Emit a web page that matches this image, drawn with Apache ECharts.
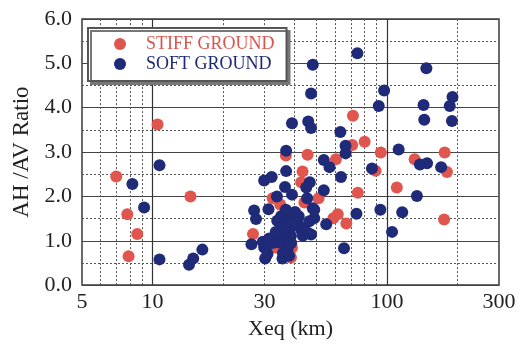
<!DOCTYPE html>
<html>
<head>
<meta charset="utf-8">
<script src="https://cdn.jsdelivr.net/npm/echarts@6/dist/echarts.min.js"></script>
<style>
  html, body { margin: 0; padding: 0; background: #fff; }
  #chart { width: 529px; height: 345px; }
</style>
</head>
<body>
<div id="chart"></div>
<script>
// values: [Xeq km, AH/AV ratio]
const stiffGround = [
  [7.0, 2.45], [7.8, 1.6], [8.6, 1.15], [7.9, 0.65], [10.5, 3.62], [14.5, 2.0],
  [26.8, 1.15], [32.5, 1.96], [35, 1.82], [37, 2.92], [43.6, 2.56], [43, 2.32],
  [45.8, 2.94], [51, 1.96], [44.4, 1.86], [38.9, 0.62], [35.3, 0.8], [39.3, 0.84],
  [33.5, 0.85], [60.5, 2.84], [59, 1.51], [61.6, 1.6], [67, 1.39], [71.5, 3.82],
  [71, 3.16], [80.2, 3.23], [75, 2.08], [89.3, 2.58], [94, 2.99], [110, 2.2],
  [131, 2.84], [176, 2.99], [180, 2.55], [175, 1.48]
];

const softGround = [
  [8.2, 2.28], [9.2, 1.75], [10.7, 2.7], [10.7, 0.58], [14.3, 0.46], [14.9, 0.6],
  [16.3, 0.8], [27.1, 1.68], [27.6, 1.49], [26.4, 0.92], [29.9, 2.36], [32.2, 2.44],
  [31.2, 1.71], [33.9, 2.0], [37.1, 3.03], [37.1, 2.57], [36.7, 2.21], [39.3, 2.04],
  [39.3, 3.65], [48.2, 4.97], [47.4, 4.32], [46.1, 3.69], [47.4, 3.54], [46.8, 2.32],
  [45.2, 2.2], [45.6, 1.96], [48.2, 1.73], [53.7, 2.82], [56.8, 2.66], [53.7, 2.14],
  [55, 1.37], [63.2, 3.45], [66.5, 3.14], [66.5, 2.97], [63.6, 2.44], [65.5, 0.83],
  [74.7, 5.23], [74, 1.61], [86.2, 2.63], [92.1, 4.04], [97.1, 4.39], [93.6, 1.7],
  [112, 3.06], [116, 1.64], [105, 1.2], [134, 2.01], [138, 2.72], [148, 2.75],
  [143, 4.06], [144, 3.73], [147, 4.89], [170, 2.66], [185, 4.04], [190, 4.24],
  [189, 3.7],
  // dense cluster around 30-50 km
  [29.9, 0.85], [30.2, 0.6], [30.9, 0.7], [29.5, 0.98], [31.4, 0.92], [33, 0.96],
  [34.1, 1.07], [34.6, 0.96], [35.3, 1.25], [35.8, 1.14], [36.4, 1.0], [36.8, 1.4],
  [37.6, 1.55], [35.3, 1.55], [38.2, 1.25], [37.9, 1.07], [38.9, 1.11], [40.2, 1.55],
  [41.6, 1.51], [42.2, 1.33], [43, 1.25], [43.7, 1.11], [44.3, 1.25], [45.8, 1.18],
  [47.4, 1.14], [48.9, 1.51], [48.9, 1.7], [46.6, 1.44], [35.8, 0.6], [37.6, 0.81],
  [38.2, 0.66], [31.4, 1.05], [33.5, 1.2], [36.5, 1.3], [39.5, 1.4], [37, 1.7],
  [40.5, 1.65], [42, 1.55], [34, 1.45], [36, 0.72], [39, 0.95]
];

const xLabels = [5, 10, 30, 100, 300];
const xMajorLines = [10, 100];
const xMinorLines = [6, 7, 8, 9, 20, 30, 40, 50, 60, 70, 80, 90, 200];

const serif = "'Liberation Serif', 'DejaVu Serif', serif";
const chart = echarts.init(document.getElementById("chart"), null, { renderer: "canvas" });

chart.setOption({
  animation: false,
  backgroundColor: "#ffffff",
  grid: {
    left: 82, right: 30, top: 19, bottom: 55,
    show: true, borderColor: "#3a3a3a", borderWidth: 1.5
  },
  legend: {
    orient: "vertical",
    left: 88, top: 28,
    z: 10,
    padding: [7, 12, 8, 26],
    itemGap: 2,
    itemWidth: 42, itemHeight: 12,
    icon: "circle",
    backgroundColor: "#ffffff",
    borderColor: "#555",
    borderWidth: 2,
    shadowColor: "#777",
    shadowOffsetX: 3,
    shadowOffsetY: 3,
    shadowBlur: 0,
    textStyle: { fontFamily: serif, fontSize: 18 },
    data: [
      { name: "STIFF GROUND", textStyle: { color: "#d9544c" } },
      { name: "SOFT GROUND", textStyle: { color: "#1f2a74" } }
    ]
  },
  xAxis: {
    type: "log",
    logBase: 10,
    min: 5, max: 300,
    name: "Xeq (km)",
    nameLocation: "middle",
    nameGap: 27,
    nameTextStyle: { fontFamily: serif, fontSize: 22, color: "#222" },
    axisLine: { show: false },
    axisTick: { show: false },
    splitLine: { show: false },
    axisLabel: {
      customValues: xLabels,
      margin: 6,
      fontFamily: serif, fontSize: 22, color: "#222",
      formatter: (v) => String(Math.round(v))
    }
  },
  yAxis: {
    type: "value",
    min: 0, max: 6, interval: 1,
    name: "AH /AV Ratio",
    nameLocation: "middle",
    nameGap: 43,
    nameTextStyle: { fontFamily: serif, fontSize: 23, color: "#222" },
    axisLine: { show: false },
    axisTick: { show: false },
    axisLabel: {
      margin: 10,
      fontFamily: serif, fontSize: 22, color: "#222",
      formatter: (v) => v.toFixed(1)
    },
    splitLine: { show: true, lineStyle: { color: "#444", width: 1 } },
    minorTick: { show: false, splitNumber: 2 },
    minorSplitLine: { show: true, lineStyle: { color: "#555", width: 1, type: [2, 2] } }
  },
  series: [
    {
      name: "grid",
      type: "scatter",
      data: [],
      z: 1,
      silent: true,
      markLine: {
        z: 1,
        silent: true,
        symbol: "none",
        label: { show: false },
        animation: false,
        data: [
          ...xMinorLines.map((v) => ({ xAxis: v, lineStyle: { color: "#555", width: 1, type: [2, 2] } })),
          ...xMajorLines.map((v) => ({ xAxis: v, lineStyle: { color: "#333", width: 1.2, type: "solid" } }))
        ]
      }
    },
    {
      name: "STIFF GROUND",
      type: "scatter",
      z: 3,
      symbolSize: 12,
      itemStyle: { color: "#e0554d", opacity: 1 },
      data: stiffGround
    },
    {
      name: "SOFT GROUND",
      type: "scatter",
      z: 4,
      symbolSize: 12,
      itemStyle: { color: "#1f2a78", opacity: 1 },
      data: softGround
    }
  ]
});
</script>
</body>
</html>
